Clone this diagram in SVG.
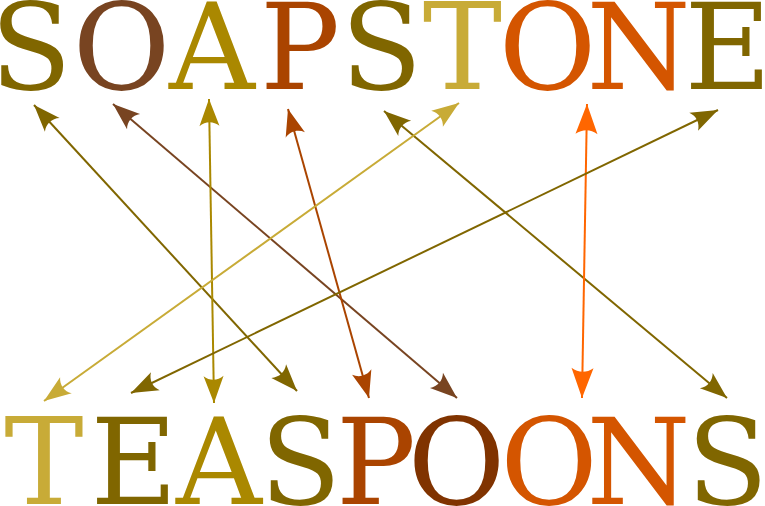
<svg xmlns="http://www.w3.org/2000/svg" width="765" height="506" viewBox="0 0 765 506">
<style>
  .l{font-family:"DejaVu Serif","Liberation Serif",serif;font-size:119px;text-anchor:middle}
  .c{fill:none;stroke-width:2}
</style>
<defs>
  <marker id="m1" markerUnits="userSpaceOnUse" orient="auto-start-reverse" overflow="visible" markerWidth="1" markerHeight="1" refX="0" refY="0"><path d="M0,0 L-27,-10 C-22,-4 -22,4 -27,10 Z" fill="#806600"/></marker>
  <marker id="m2" markerUnits="userSpaceOnUse" orient="auto-start-reverse" overflow="visible" markerWidth="1" markerHeight="1" refX="0" refY="0"><path d="M0,0 L-27,-10 C-22,-4 -22,4 -27,10 Z" fill="#784421"/></marker>
  <marker id="m3" markerUnits="userSpaceOnUse" orient="auto-start-reverse" overflow="visible" markerWidth="1" markerHeight="1" refX="0" refY="0"><path d="M0,0 L-27,-10 C-22,-4 -22,4 -27,10 Z" fill="#aa8800"/></marker>
  <marker id="m4" markerUnits="userSpaceOnUse" orient="auto-start-reverse" overflow="visible" markerWidth="1" markerHeight="1" refX="0" refY="0"><path d="M0,0 L-27,-10 C-22,-4 -22,4 -27,10 Z" fill="#aa4400"/></marker>
  <marker id="m5" markerUnits="userSpaceOnUse" orient="auto-start-reverse" overflow="visible" markerWidth="1" markerHeight="1" refX="0" refY="0"><path d="M0,0 L-27,-10 C-22,-4 -22,4 -27,10 Z" fill="#c8ab37"/></marker>
  <marker id="m6" markerUnits="userSpaceOnUse" orient="auto-start-reverse" overflow="visible" markerWidth="1" markerHeight="1" refX="0" refY="0"><path d="M0,0 L-30,-11 C-25,-4 -25,4 -30,11 Z" fill="#ff6600"/></marker>
</defs>
<g id="top-word">
  <g id="top-S1"><text class="l" x="31" y="89" fill="#806600">S</text></g>
  <g id="top-O1"><text class="l" x="121.5" y="89" fill="#784421">O</text></g>
  <g id="top-A"><text class="l" x="212" y="89" fill="#aa8800">A</text></g>
  <g id="top-P"><text class="l" x="300" y="89" fill="#aa4400">P</text></g>
  <g id="top-S2"><text class="l" x="381.5" y="89" fill="#806600">S</text></g>
  <g id="top-T"><text class="l" x="462.5" y="89" fill="#c8ab37">T</text></g>
  <g id="top-O2"><text class="l" x="547.5" y="89" fill="#d45500">O</text></g>
  <g id="top-N"><text class="l" x="638.5" y="89" fill="#d45500">N</text></g>
  <g id="top-E"><text class="l" x="728" y="89" fill="#806600">E</text></g>
</g>
<g id="bottom-word">
  <g id="bot-T"><text class="l" x="44" y="504" fill="#c8ab37">T</text></g>
  <g id="bot-E"><text class="l" x="134" y="504" fill="#806600">E</text></g>
  <g id="bot-A"><text class="l" x="219" y="504" fill="#aa8800">A</text></g>
  <g id="bot-S1"><text class="l" x="300.5" y="504" fill="#806600">S</text></g>
  <g id="bot-P"><text class="l" x="376" y="504" fill="#aa4400">P</text></g>
  <g id="bot-O1"><text class="l" x="456.5" y="504" fill="#803300">O</text></g>
  <g id="bot-O2"><text class="l" x="549" y="504" fill="#d45500">O</text></g>
  <g id="bot-N"><text class="l" x="638.5" y="504" fill="#d45500">N</text></g>
  <g id="bot-S2"><text class="l" x="727.5" y="504" fill="#806600">S</text></g>
</g>
<g id="connectors">
  <line class="c" x1="34" y1="105" x2="297" y2="391" stroke="#806600" marker-start="url(#m1)" marker-end="url(#m1)"/>
  <line class="c" x1="113" y1="104" x2="457" y2="398" stroke="#784421" marker-start="url(#m2)" marker-end="url(#m2)"/>
  <line class="c" x1="209" y1="99" x2="214" y2="403" stroke="#aa8800" marker-start="url(#m3)" marker-end="url(#m3)"/>
  <line class="c" x1="288" y1="109" x2="369" y2="398" stroke="#aa4400" marker-start="url(#m4)" marker-end="url(#m4)"/>
  <line class="c" x1="384" y1="111" x2="727" y2="398" stroke="#806600" marker-start="url(#m1)" marker-end="url(#m1)"/>
  <line class="c" x1="459" y1="103" x2="44" y2="401" stroke="#c8ab37" marker-start="url(#m5)" marker-end="url(#m5)"/>
  <line class="c" x1="587" y1="104" x2="582" y2="398" stroke="#ff6600" stroke-width="2.5" marker-start="url(#m6)" marker-end="url(#m6)"/>
  <line class="c" x1="718" y1="110" x2="131" y2="393" stroke="#806600" marker-start="url(#m1)" marker-end="url(#m1)"/>
</g>
</svg>
